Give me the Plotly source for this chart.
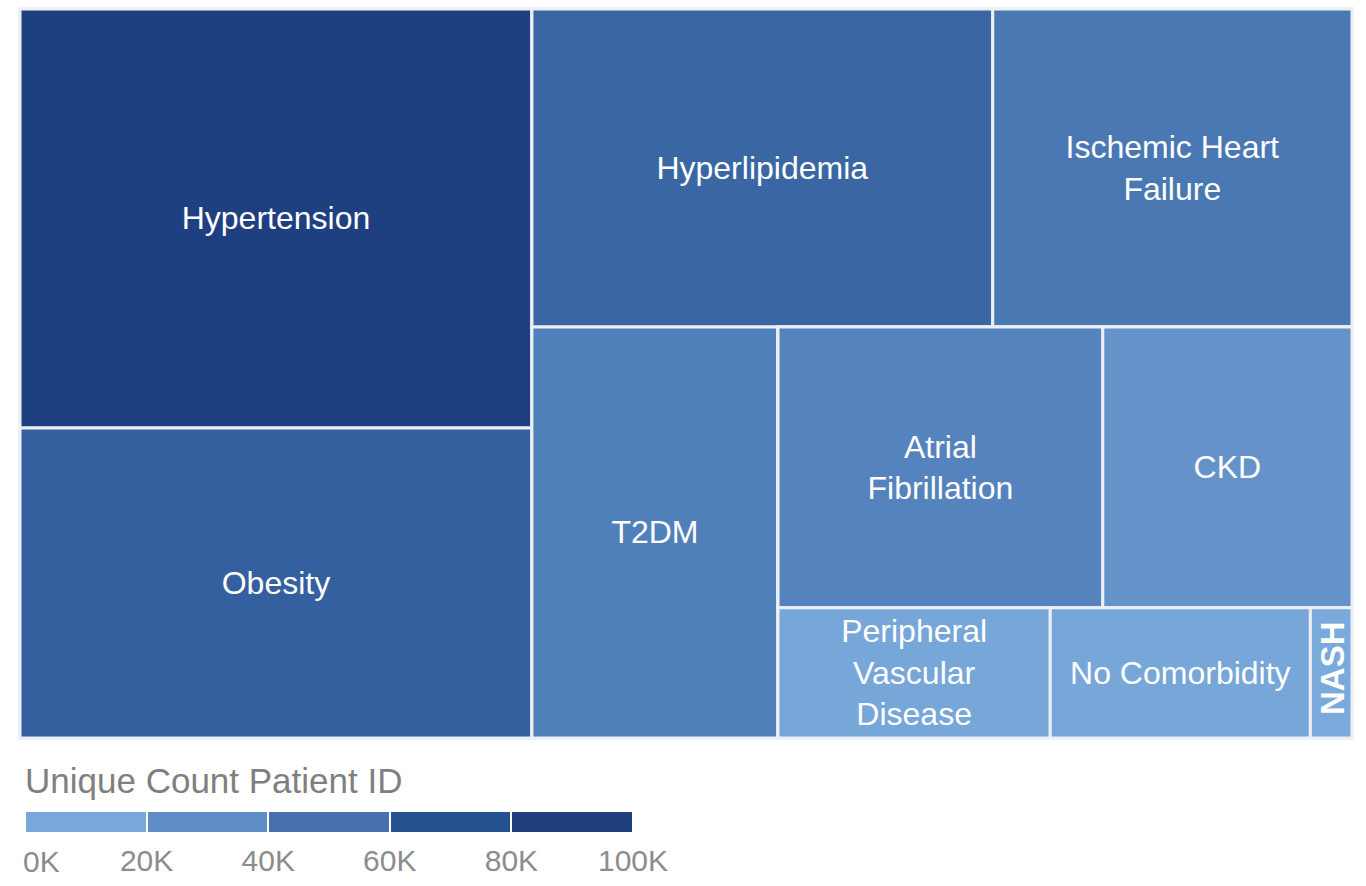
import plotly.graph_objects as go

# Data (values in thousands of unique patients)
conditions = ["Hypertension", "Obesity", "Hyperlipidemia", "Ischemic Heart Failure", "T2DM",
              "Atrial Fibrillation", "CKD", "Peripheral Vascular Disease", "No Comorbidity", "NASH"]
display_text = ["Hypertension", "Obesity", "Hyperlipidemia", "Ischemic Heart<br>Failure", "T2DM",
                "Atrial<br>Fibrillation", "CKD", "Peripheral<br>Vascular<br>Disease", "No Comorbidity", ""]
patients_k = [95.0, 70.3, 64.9, 50.6, 44.8, 40.4, 31.0, 15.7, 15.0, 2.4]

# Layout grouping of the tiles (as arranged in the reference treemap)
condition_group = ["g_left", "g_left", "g_rtop", "g_rtop", "g_rbot",
                   "g_rbr1", "g_rbr1", "g_rbr2", "g_rbr2", "g_rbr2"]
group_ids = ["g_left", "g_right", "g_rtop", "g_rbot", "g_rbr", "g_rbr1", "g_rbr2"]
group_parents = ["", "", "g_right", "g_right", "g_rbot", "g_rbr", "g_rbr"]
node_order = ["g_left", "Hypertension", "Obesity",
              "g_right", "g_rtop", "Hyperlipidemia", "Ischemic Heart Failure",
              "g_rbot", "T2DM", "g_rbr",
              "g_rbr1", "Atrial Fibrillation", "CKD",
              "g_rbr2", "Peripheral Vascular Disease", "No Comorbidity", "NASH"]

legend_bins = [20, 20, 20, 20, 20]
legend_colors = ["#79a7d9", "#5f8dc5", "#4a6fae", "#24518f", "#1e3f7c"]
legend_ticks = [0, 20, 40, 60, 80, 100]
legend_ticklabels = ["0K", "20K", "40K", "60K", "80K", "100K"]

colorscale = [
    [0.0, "#7aaadb"],
    [0.16, "#77a6d8"],
    [0.31, "#6592c8"],
    [0.40, "#5583bd"],
    [0.45, "#5080ba"],
    [0.51, "#4a77b1"],
    [0.65, "#3a67a3"],
    [0.70, "#3560a0"],
    [0.95, "#1e4080"],
    [1.0, "#1e3f7c"],
]

node_info = {}
for gid, gpar in zip(group_ids, group_parents):
    node_info[gid] = dict(label="", parent=gpar, value=0, text="", color=0)
for name, grp, txt, val in zip(conditions, condition_group, display_text, patients_k):
    node_info[name] = dict(label=name, parent=grp, value=val, text=txt, color=val)

ids = node_order
labels = [node_info[n]["label"] for n in ids]
parents = [node_info[n]["parent"] for n in ids]
values = [node_info[n]["value"] for n in ids]
texts = [node_info[n]["text"] for n in ids]
colors = [node_info[n]["color"] for n in ids]

tick_font = dict(family="Liberation Sans, Arial, sans-serif", size=30, color="#8c8c8c")

fig = go.Figure()

fig.add_trace(go.Treemap(
    ids=ids,
    labels=labels,
    parents=parents,
    values=values,
    branchvalues="remainder",
    sort=False,
    text=texts,
    texttemplate="%{text}",
    textposition="middle center",
    textfont=dict(family="Liberation Sans, Arial, sans-serif", size=32, color="white"),
    marker=dict(
        colors=colors,
        colorscale=colorscale,
        cmin=0, cmax=100,
        showscale=False,
        line=dict(color="#eceff3", width=3),
        pad=dict(t=0, l=0, r=0, b=0),
    ),
    tiling=dict(packing="slice-dice", pad=0),
    pathbar=dict(visible=False),
    maxdepth=-1,
    hoverinfo="label+value",
    domain=dict(x=[20 / 1366, 1352 / 1366], y=[1 - 738 / 886, 1 - 9 / 886]),
))

# Discrete legend bar
for w, c in zip(legend_bins, legend_colors):
    fig.add_trace(go.Bar(
        x=[w], y=[0], orientation="h", marker=dict(color=c, line=dict(color="white", width=2)),
        width=1, showlegend=False, hoverinfo="skip",
    ))

fig.update_layout(
    width=1366, height=886,
    margin=dict(l=0, r=0, t=0, b=0, autoexpand=False),
    paper_bgcolor="white",
    plot_bgcolor="white",
    barmode="stack",
    bargap=0,
    xaxis=dict(
        domain=[25 / 1366, 633 / 1366], range=[0, 100],
        tickvals=legend_ticks[1:], ticktext=legend_ticklabels[1:],
        showgrid=False, zeroline=False, showline=False, ticks="",
        ticklabelstandoff=7,
        tickfont=tick_font,
        automargin=False, fixedrange=True,
    ),
    yaxis=dict(
        domain=[1 - 833 / 886, 1 - 811 / 886], range=[-0.5, 0.5],
        showticklabels=False, showgrid=False, zeroline=False, showline=False,
        automargin=False, fixedrange=True,
    ),
    annotations=[
        dict(
            text="Unique Count Patient ID", xref="paper", yref="paper",
            x=23 / 1366, y=1 - 780 / 886, xanchor="left", yanchor="middle", showarrow=False,
            font=dict(family="Liberation Sans, Arial, sans-serif", size=35, color="#7f7f7f"),
        ),
        dict(
            text=legend_ticklabels[0], xref="x", yref="paper",
            x=legend_ticks[0], y=1 - 861 / 886, xanchor="left", yanchor="middle", showarrow=False,
            xshift=-4, font=tick_font,
        ),
        dict(
            text="<b>NASH</b>", xref="paper", yref="paper",
            x=1332 / 1366, y=1 - 668 / 886, xanchor="center", yanchor="middle", showarrow=False,
            textangle=-90,
            font=dict(family="Liberation Sans, Arial, sans-serif", size=33, color="white"),
        ),
    ],
)

fig.write_html("out.html", config={"displayModeBar": False},
               post_script="document.body.style.margin='0';")
